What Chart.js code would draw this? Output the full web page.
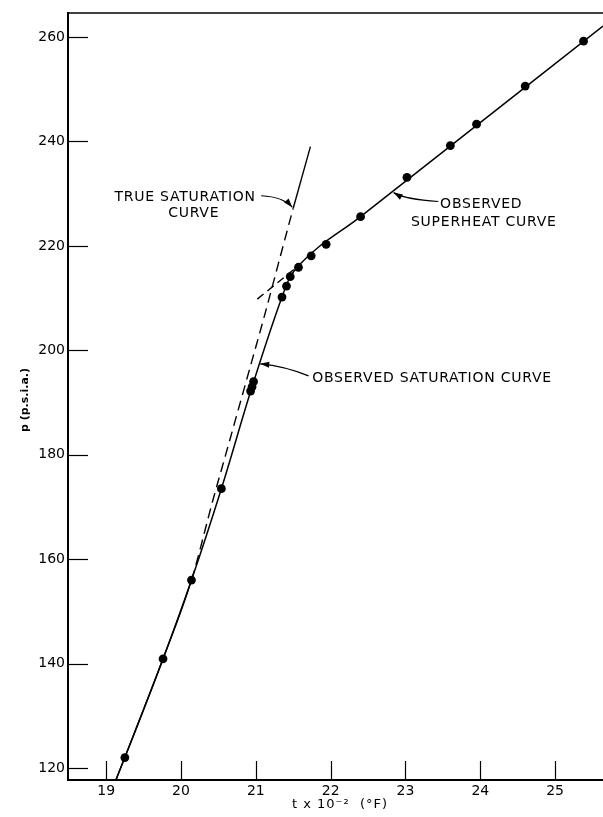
<!DOCTYPE html>
<html>
<head>
<meta charset="utf-8">
<style>
  html, body { margin: 0; padding: 0; background: #fff; }
  canvas { display: block; }
</style>
<script src="https://cdn.jsdelivr.net/npm/chart.js@4.4.1/dist/chart.umd.min.js"></script>
</head>
<body>
<canvas id="c" width="603" height="817"></canvas>
<script>
// ---- data (t in hundreds of °F, p in p.s.i.a.) ----
const obsT = [19.25, 19.76, 20.14, 20.54, 20.93, 20.95, 20.97, 21.35, 21.41, 21.46, 21.57, 21.74, 21.94, 22.40, 23.02, 23.60, 23.95, 24.60, 25.38];
const obsP = [122.0, 140.9, 156.0, 173.5, 192.2, 193.0, 194.0, 210.2, 212.3, 214.1, 215.9, 218.1, 220.3, 225.6, 233.1, 239.2, 243.3, 250.6, 259.2];

// observed saturation + superheat curve (solid)
const obsCurveT = [19.13, 19.25, 19.76, 20.14, 20.54, 20.95, 21.35, 21.45, 21.57, 22.40, 25.64];
const obsCurveP = [117.7, 122.0, 140.9, 156.0, 173.5, 193.0, 210.2, 213.8, 216.2, 225.6, 262.1];

// true saturation curve (dashed between trueDashFrom and trueDashTo)
const trueT = [19.13, 19.76, 20.14, 20.44, 20.55, 20.96, 21.10, 21.50, 21.73];
const trueP = [117.7, 140.9, 156.0, 172.0, 177.6, 198.6, 205.8, 227.2, 239.0];
const trueDashFrom = 20.14, trueDashTo = 21.50;

// dashed extrapolation of the superheat curve
const superExtT = [21.02, 21.57];
const superExtP = [209.8, 216.2];

// axes
const xTicks = [19, 20, 21, 22, 23, 24, 25];
const yTicks = [120, 140, 160, 180, 200, 220, 240, 260];
const xRange = [18.49, 25.64];
const yRange = [117.7, 264.6];

// annotations
const annLabels = [
  { lines: ['TRUE SATURATION', 'CURVE'], t: [20.056, 20.170], p: [228.6, 225.5], align: 'center' },
  { lines: ['OBSERVED', 'SUPERHEAT CURVE'], t: [24.013, 24.047], p: [227.3, 223.8], align: 'center' },
  { lines: ['OBSERVED SATURATION CURVE'], t: [21.754], p: [193.9], align: 'left' }
];
// arrows: start, control, tip (data coords)
const annArrows = [
  { t: [21.072, 21.366, 21.487], p: [229.6, 229.4, 227.4] },
  { t: [23.439, 23.000, 22.841], p: [228.5, 228.9, 230.2] },
  { t: [21.705, 21.380, 21.059], p: [195.1, 197.0, 197.4] }
];

const xTitle = 't x 10\u207B\u00B2  (\u00B0F)';
const yTitle = 'p (p.s.i.a.)';

const toXY = (ts, ps) => ts.map((t, i) => ({ x: t, y: ps[i] }));

const FONT = '"DejaVu Sans", "Liberation Sans", sans-serif';

const decorPlugin = {
  id: 'decor',
  afterDraw(chart) {
    const ctx = chart.ctx;
    const xs = chart.scales.x, ys = chart.scales.y;
    const ca = chart.chartArea;
    ctx.save();
    ctx.strokeStyle = '#000';
    ctx.fillStyle = '#000';
    // top border
    ctx.lineWidth = 1.5;
    ctx.beginPath();
    ctx.moveTo(ca.left, ca.top);
    ctx.lineTo(chart.width, ca.top);
    ctx.stroke();
    // inward ticks
    ctx.lineWidth = 1.2;
    xTicks.forEach(v => {
      const px = Math.round(xs.getPixelForValue(v)) + 0.5;
      ctx.beginPath();
      ctx.moveTo(px, ca.bottom);
      ctx.lineTo(px, ca.bottom - 19);
      ctx.stroke();
    });
    yTicks.forEach(v => {
      const py = Math.round(ys.getPixelForValue(v)) + 0.5;
      ctx.beginPath();
      ctx.moveTo(ca.left, py);
      ctx.lineTo(ca.left + 20, py);
      ctx.stroke();
    });
    // annotation text
    ctx.font = '14px ' + FONT;
    ctx.letterSpacing = '0.75px';
    ctx.textBaseline = 'alphabetic';
    annLabels.forEach(a => {
      ctx.textAlign = a.align;
      a.lines.forEach((s, i) => {
        ctx.fillText(s, xs.getPixelForValue(a.t[i]), ys.getPixelForValue(a.p[i]));
      });
    });
    // arrows
    ctx.lineWidth = 1.2;
    annArrows.forEach(a => {
      const P = a.t.map((t, i) => [xs.getPixelForValue(t), ys.getPixelForValue(a.p[i])]);
      ctx.beginPath();
      ctx.moveTo(P[0][0], P[0][1]);
      ctx.quadraticCurveTo(P[1][0], P[1][1], P[2][0], P[2][1]);
      ctx.stroke();
      const ang = Math.atan2(P[2][1] - P[1][1], P[2][0] - P[1][0]);
      const L = 9, W = 3;
      const bx = P[2][0] - L * Math.cos(ang), by = P[2][1] - L * Math.sin(ang);
      ctx.beginPath();
      ctx.moveTo(P[2][0], P[2][1]);
      ctx.lineTo(bx + W * Math.sin(ang), by - W * Math.cos(ang));
      ctx.lineTo(bx - W * Math.sin(ang), by + W * Math.cos(ang));
      ctx.closePath();
      ctx.fill();
    });
    // axis titles
    ctx.letterSpacing = '1px';
    ctx.font = '13px ' + FONT;
    ctx.textAlign = 'center';
    ctx.textBaseline = 'alphabetic';
    ctx.fillText(xTitle, 340, 808);
    ctx.translate(25, 400);
    ctx.rotate(-Math.PI / 2);
    ctx.textBaseline = 'middle';
    ctx.letterSpacing = '0px';
    ctx.font = 'bold 11px ' + FONT;
    ctx.fillText(yTitle, 0, 0);
    ctx.restore();
  }
};

new Chart(document.getElementById('c'), {
  type: 'scatter',
  data: {
    datasets: [
      {
        data: toXY(obsT, obsP),
        showLine: false,
        pointRadius: 4.4,
        pointBackgroundColor: '#000',
        pointBorderColor: '#000',
        pointBorderWidth: 0,
        order: 0
      },
      {
        data: toXY(obsCurveT, obsCurveP),
        showLine: true,
        pointRadius: 0,
        borderColor: '#000',
        borderWidth: 1.5,
        cubicInterpolationMode: 'monotone',
        order: 1
      },
      {
        data: toXY(trueT, trueP),
        showLine: true,
        pointRadius: 0,
        borderColor: '#000',
        borderWidth: 1.4,
        cubicInterpolationMode: 'monotone',
        segment: {
          borderDash: c => (c.p0.parsed.x >= trueDashFrom - 1e-6 && c.p1.parsed.x <= trueDashTo + 1e-6) ? [10, 6] : undefined
        },
        order: 2
      },
      {
        data: toXY(superExtT, superExtP),
        showLine: true,
        pointRadius: 0,
        borderColor: '#000',
        borderWidth: 1.4,
        borderDash: [8, 5],
        order: 3
      }
    ]
  },
  options: {
    responsive: false,
    devicePixelRatio: 1,
    animation: false,
    layout: { autoPadding: false, padding: { top: 13, right: 0, left: 0, bottom: 0 } },
    plugins: { legend: { display: false }, tooltip: { enabled: false } },
    scales: {
      x: {
        type: 'linear',
        min: xRange[0], max: xRange[1],
        afterBuildTicks: s => { s.ticks = xTicks.map(v => ({ value: v })); },
        afterFit: s => { s.height = 37; s.paddingLeft = 0; s.paddingRight = 0; },
        grid: { display: false, drawTicks: false },
        border: { display: true, color: '#000', width: 2 },
        ticks: { color: '#000', padding: 3, font: { family: FONT, size: 14 }, maxRotation: 0, autoSkip: false },
        title: { display: false }
      },
      y: {
        type: 'linear',
        min: yRange[0], max: yRange[1],
        afterBuildTicks: s => { s.ticks = yTicks.map(v => ({ value: v })); },
        afterFit: s => { s.width = 68; s.paddingTop = 0; s.paddingBottom = 0; },
        grid: { display: false, drawTicks: false },
        border: { display: true, color: '#000', width: 2 },
        ticks: { color: '#000', padding: 3, font: { family: FONT, size: 14 }, autoSkip: false },
        title: { display: false }
      }
    }
  },
  plugins: [decorPlugin]
});
</script>
</body>
</html>
